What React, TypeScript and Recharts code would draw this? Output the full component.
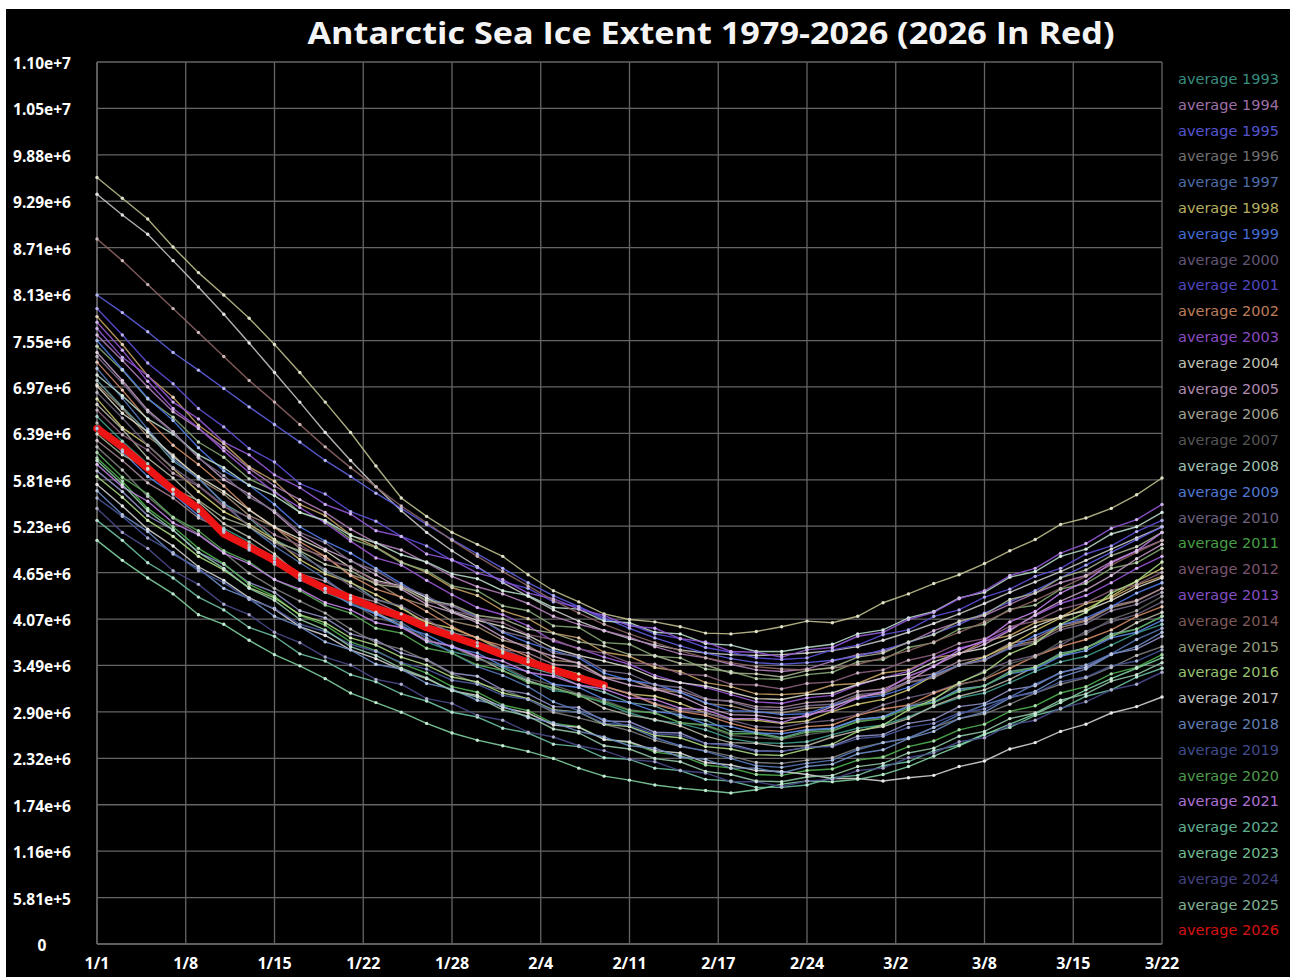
import React from 'react';
import { LineChart, Line, XAxis, YAxis, CartesianGrid } from 'recharts';

// x positions: every second day-step, 0..84 (12 ticks of 7 steps)
const dayIndex = [
  0, 2, 4, 6, 8, 10, 12, 14, 16, 18, 20, 22, 24, 26, 28, 30, 32, 34, 36, 38, 40, 42,
  44, 46, 48, 50, 52, 54, 56, 58, 60, 62, 64, 66, 68, 70, 72, 74, 76, 78, 80, 82, 84,
];
const xTicks = [0, 7, 14, 21, 28, 35, 42, 49, 56, 63, 70, 77, 84];
const xTickLabels = ['1/1', '1/8', '1/15', '1/22', '1/28', '2/4', '2/11', '2/17', '2/24', '3/2', '3/8', '3/15', '3/22'];

// millions of km²
const yTicks = [
  0, 0.5808, 1.1616, 1.7424, 2.3232, 2.904, 3.4848, 4.0656, 4.6464, 5.2272, 5.808, 6.3888, 6.9696,
  7.5504, 8.1312, 8.712, 9.2928, 9.8736, 10.4544, 11.0352,
];
const yTickLabels = [
  '0', '5.81e+5', '1.16e+6', '1.74e+6', '2.32e+6', '2.90e+6', '3.49e+6', '4.07e+6', '4.65e+6', '5.23e+6',
  '5.81e+6', '6.39e+6', '6.97e+6', '7.55e+6', '8.13e+6', '8.71e+6', '9.29e+6', '9.88e+6', '1.05e+7', '1.10e+7',
];

// earlier years (drawn, legend scrolled out of view)
const y1985 = [9.59, 9.33, 9.07, 8.72, 8.40, 8.12, 7.83, 7.50, 7.15, 6.78, 6.40, 5.98, 5.58, 5.35, 5.15, 5.00, 4.85, 4.62, 4.42, 4.28, 4.13, 4.06, 4.03, 3.97, 3.89, 3.88, 3.91, 3.97, 4.04, 4.02, 4.10, 4.27, 4.38, 4.51, 4.62, 4.76, 4.92, 5.06, 5.25, 5.33, 5.45, 5.62, 5.83];
const y1986 = [9.38, 9.12, 8.88, 8.55, 8.22, 7.88, 7.52, 7.15, 6.78, 6.40, 6.05, 5.72, 5.42, 5.15, 4.92, 4.72, 4.52, 4.35, 4.18, 4.04, 3.92, 3.82, 3.74, 3.68, 3.64, 3.62, 3.61, 3.62, 3.64, 3.67, 3.72, 3.80, 3.90, 4.01, 4.13, 4.26, 4.40, 4.53, 4.66, 4.80, 4.94, 5.08, 5.22];
const y1987 = [7.00, 6.70, 6.35, 6.12, 5.82, 5.63, 5.36, 5.22, 4.95, 4.85, 4.62, 4.52, 4.33, 4.23, 4.04, 3.97, 3.80, 3.73, 3.55, 3.52, 3.34, 3.31, 3.18, 3.15, 3.01, 2.98, 2.90, 2.89, 2.95, 2.97, 3.10, 3.13, 3.27, 3.33, 3.49, 3.55, 3.73, 3.79, 3.96, 4.04, 4.21, 4.29, 4.45];
const y1988 = [7.85, 7.50, 7.11, 6.84, 6.49, 6.26, 5.97, 5.79, 5.50, 5.36, 5.12, 4.97, 4.78, 4.65, 4.46, 4.36, 4.17, 4.07, 3.89, 3.83, 3.65, 3.60, 3.46, 3.41, 3.27, 3.22, 3.13, 3.12, 3.14, 3.24, 3.26, 3.39, 3.43, 3.58, 3.63, 3.79, 3.86, 4.02, 4.09, 4.26, 4.33, 4.49, 4.60];
const y1989 = [7.05, 6.72, 6.40, 6.04, 5.83, 5.51, 5.33, 5.06, 4.90, 4.66, 4.53, 4.31, 4.22, 3.99, 3.91, 3.73, 3.64, 3.46, 3.38, 3.24, 3.15, 3.02, 2.98, 2.84, 2.80, 2.66, 2.65, 2.58, 2.67, 2.69, 2.81, 2.84, 2.98, 3.02, 3.19, 3.23, 3.41, 3.46, 3.64, 3.70, 3.88, 3.94, 4.10];
const y1990 = [6.30, 6.05, 5.77, 5.58, 5.33, 5.18, 4.96, 4.85, 4.63, 4.54, 4.36, 4.28, 4.13, 4.04, 3.89, 3.84, 3.69, 3.64, 3.50, 3.47, 3.33, 3.31, 3.20, 3.17, 3.06, 3.04, 2.97, 2.96, 3.02, 3.04, 3.16, 3.19, 3.33, 3.38, 3.54, 3.59, 3.76, 3.82, 3.99, 4.05, 4.23, 4.30, 4.45];
const y1991 = [7.48, 7.18, 6.82, 6.59, 6.28, 6.09, 5.82, 5.67, 5.40, 5.29, 5.07, 4.96, 4.77, 4.67, 4.48, 4.42, 4.23, 4.17, 3.98, 3.96, 3.77, 3.75, 3.60, 3.58, 3.44, 3.41, 3.32, 3.31, 3.37, 3.40, 3.53, 3.56, 3.71, 3.77, 3.94, 4.00, 4.19, 4.24, 4.44, 4.51, 4.70, 4.77, 4.95];
const y1992 = [5.92, 5.66, 5.36, 5.18, 4.90, 4.75, 4.52, 4.40, 4.17, 4.08, 3.88, 3.80, 3.64, 3.56, 3.39, 3.35, 3.18, 3.13, 2.97, 2.96, 2.79, 2.78, 2.65, 2.64, 2.51, 2.50, 2.42, 2.41, 2.46, 2.48, 2.60, 2.62, 2.76, 2.81, 2.97, 3.01, 3.18, 3.23, 3.40, 3.46, 3.63, 3.69, 3.85];

const y1993 = [6.60, 6.29, 6.01, 5.68, 5.41, 5.20, 5.03, 4.82, 4.57, 4.40, 4.27, 4.13, 3.99, 3.78, 3.66, 3.58, 3.46, 3.30, 3.17, 3.13, 3.01, 2.89, 2.80, 2.76, 2.68, 2.57, 2.52, 2.51, 2.53, 2.62, 2.70, 2.74, 2.84, 2.97, 3.08, 3.14, 3.27, 3.41, 3.53, 3.60, 3.74, 3.89, 4.00];
const y1994 = [7.62, 7.30, 6.97, 6.66, 6.45, 6.21, 5.95, 5.73, 5.56, 5.40, 5.19, 5.02, 4.93, 4.77, 4.60, 4.47, 4.38, 4.26, 4.10, 4.00, 3.92, 3.84, 3.72, 3.63, 3.58, 3.50, 3.43, 3.41, 3.44, 3.54, 3.62, 3.66, 3.77, 3.92, 4.03, 4.11, 4.25, 4.39, 4.52, 4.61, 4.78, 4.92, 5.05];
const y1995 = [8.12, 7.90, 7.66, 7.40, 7.18, 6.95, 6.72, 6.50, 6.28, 6.05, 5.85, 5.64, 5.45, 5.25, 5.06, 4.88, 4.70, 4.52, 4.36, 4.22, 4.08, 3.95, 3.83, 3.73, 3.64, 3.57, 3.52, 3.50, 3.52, 3.55, 3.60, 3.68, 3.77, 3.88, 4.00, 4.14, 4.28, 4.42, 4.58, 4.74, 4.90, 5.06, 5.22];
const y1996 = [6.22, 5.93, 5.60, 5.33, 5.13, 4.90, 4.64, 4.45, 4.29, 4.14, 3.94, 3.77, 3.69, 3.55, 3.38, 3.26, 3.18, 3.06, 2.90, 2.83, 2.75, 2.67, 2.55, 2.47, 2.42, 2.35, 2.27, 2.26, 2.30, 2.33, 2.45, 2.52, 2.57, 2.71, 2.82, 2.88, 3.00, 3.14, 3.25, 3.33, 3.46, 3.61, 3.72];
const y1997 = [7.20, 6.83, 6.44, 6.07, 5.82, 5.52, 5.22, 4.98, 4.77, 4.57, 4.33, 4.12, 4.02, 3.83, 3.64, 3.47, 3.36, 3.22, 3.03, 2.92, 2.81, 2.72, 2.58, 2.48, 2.41, 2.32, 2.23, 2.21, 2.26, 2.30, 2.43, 2.52, 2.58, 2.71, 2.87, 2.99, 3.09, 3.25, 3.39, 3.49, 3.63, 3.81, 3.95];
const y1998 = [6.82, 6.46, 6.24, 5.95, 5.66, 5.41, 5.25, 5.06, 4.81, 4.63, 4.52, 4.37, 4.20, 4.02, 3.95, 3.83, 3.67, 3.53, 3.46, 3.38, 3.22, 3.13, 3.10, 3.01, 2.89, 2.81, 2.80, 2.76, 2.79, 2.91, 3.00, 3.06, 3.18, 3.36, 3.49, 3.59, 3.74, 3.92, 4.08, 4.19, 4.35, 4.54, 4.70];
const y1999 = [7.55, 7.19, 6.83, 6.55, 6.21, 5.92, 5.74, 5.50, 5.22, 5.04, 4.89, 4.70, 4.51, 4.33, 4.23, 4.09, 3.90, 3.77, 3.67, 3.58, 3.39, 3.30, 3.25, 3.15, 3.02, 2.92, 2.91, 2.87, 2.88, 2.99, 3.07, 3.11, 3.21, 3.37, 3.49, 3.56, 3.70, 3.86, 3.99, 4.08, 4.22, 4.39, 4.52];
const y2000 = [6.90, 6.58, 6.24, 5.96, 5.74, 5.49, 5.23, 5.02, 4.86, 4.69, 4.48, 4.31, 4.23, 4.06, 3.89, 3.77, 3.69, 3.56, 3.39, 3.31, 3.22, 3.14, 3.01, 2.93, 2.89, 2.80, 2.72, 2.71, 2.77, 2.80, 2.87, 2.99, 3.08, 3.15, 3.26, 3.42, 3.54, 3.61, 3.74, 3.91, 4.03, 4.12, 4.28];
const y2001 = [7.95, 7.62, 7.27, 7.01, 6.70, 6.47, 6.20, 6.03, 5.76, 5.63, 5.41, 5.29, 5.10, 4.98, 4.80, 4.71, 4.53, 4.45, 4.28, 4.22, 4.06, 4.00, 3.88, 3.82, 3.71, 3.65, 3.58, 3.56, 3.58, 3.68, 3.74, 3.87, 3.93, 4.10, 4.18, 4.34, 4.44, 4.60, 4.70, 4.88, 4.98, 5.16, 5.30];
const y2002 = [7.28, 6.93, 6.56, 6.24, 6.00, 5.73, 5.44, 5.21, 5.03, 4.85, 4.61, 4.44, 4.34, 4.16, 3.97, 3.82, 3.73, 3.60, 3.42, 3.31, 3.23, 3.13, 3.00, 2.91, 2.86, 2.76, 2.68, 2.66, 2.72, 2.74, 2.86, 2.94, 2.99, 3.14, 3.25, 3.31, 3.45, 3.60, 3.72, 3.81, 3.93, 4.10, 4.22];
const y2003 = [7.78, 7.43, 7.04, 6.70, 6.46, 6.17, 5.90, 5.65, 5.46, 5.27, 5.04, 4.83, 4.74, 4.55, 4.37, 4.21, 4.12, 3.98, 3.79, 3.70, 3.59, 3.50, 3.36, 3.27, 3.21, 3.12, 3.03, 3.01, 3.08, 3.11, 3.24, 3.33, 3.41, 3.58, 3.70, 3.78, 3.94, 4.11, 4.26, 4.36, 4.52, 4.70, 4.85];
const y2004 = [6.98, 6.64, 6.41, 6.10, 5.85, 5.66, 5.43, 5.22, 5.07, 4.92, 4.71, 4.55, 4.48, 4.33, 4.16, 4.05, 3.97, 3.86, 3.70, 3.61, 3.54, 3.46, 3.33, 3.27, 3.23, 3.15, 3.07, 3.06, 3.12, 3.14, 3.25, 3.33, 3.38, 3.53, 3.64, 3.70, 3.83, 3.97, 4.10, 4.17, 4.30, 4.46, 4.58];
const y2005 = [7.40, 7.05, 6.68, 6.41, 6.09, 5.81, 5.63, 5.40, 5.12, 4.94, 4.80, 4.62, 4.44, 4.25, 4.15, 4.02, 3.84, 3.70, 3.60, 3.51, 3.33, 3.24, 3.19, 3.10, 2.96, 2.87, 2.86, 2.82, 2.85, 2.97, 3.08, 3.15, 3.29, 3.48, 3.63, 3.75, 3.92, 4.12, 4.29, 4.43, 4.61, 4.82, 5.00];
const y2006 = [6.75, 6.44, 6.08, 5.83, 5.53, 5.26, 5.09, 4.88, 4.61, 4.45, 4.32, 4.15, 3.98, 3.80, 3.72, 3.59, 3.42, 3.29, 3.20, 3.12, 2.95, 2.86, 2.81, 2.73, 2.60, 2.52, 2.51, 2.47, 2.48, 2.59, 2.67, 2.72, 2.82, 2.98, 3.10, 3.18, 3.31, 3.47, 3.61, 3.71, 3.84, 4.02, 4.15];
const y2007 = [6.52, 6.18, 5.94, 5.63, 5.43, 5.15, 4.99, 4.75, 4.59, 4.40, 4.28, 4.08, 4.00, 3.80, 3.72, 3.56, 3.48, 3.32, 3.24, 3.13, 3.05, 2.93, 2.89, 2.77, 2.73, 2.61, 2.58, 2.56, 2.62, 2.66, 2.79, 2.84, 2.98, 3.07, 3.24, 3.32, 3.51, 3.59, 3.78, 3.88, 4.06, 4.17, 4.35];
const y2008 = [7.12, 6.86, 6.57, 6.38, 6.12, 5.96, 5.74, 5.61, 5.40, 5.30, 5.11, 5.02, 4.87, 4.78, 4.63, 4.57, 4.42, 4.36, 4.21, 4.19, 4.04, 4.02, 3.90, 3.88, 3.76, 3.74, 3.66, 3.66, 3.71, 3.75, 3.88, 3.93, 4.08, 4.16, 4.33, 4.40, 4.59, 4.66, 4.85, 4.94, 5.13, 5.22, 5.40];
const y2009 = [6.45, 6.16, 5.85, 5.63, 5.36, 5.17, 4.93, 4.78, 4.55, 4.44, 4.25, 4.13, 3.97, 3.87, 3.71, 3.64, 3.48, 3.41, 3.25, 3.21, 3.06, 3.02, 2.91, 2.87, 2.75, 2.72, 2.64, 2.63, 2.68, 2.70, 2.81, 2.84, 2.97, 3.03, 3.17, 3.23, 3.38, 3.44, 3.60, 3.67, 3.83, 3.90, 4.05];
const y2010 = [7.35, 7.02, 6.66, 6.40, 6.08, 5.86, 5.59, 5.42, 5.15, 5.02, 4.79, 4.67, 4.48, 4.36, 4.17, 4.09, 3.91, 3.83, 3.64, 3.60, 3.42, 3.38, 3.24, 3.21, 3.07, 3.03, 2.94, 2.93, 2.98, 3.00, 3.12, 3.15, 3.28, 3.34, 3.49, 3.55, 3.71, 3.77, 3.93, 4.01, 4.17, 4.25, 4.40];
const y2011 = [6.08, 5.79, 5.45, 5.22, 4.95, 4.76, 4.50, 4.35, 4.11, 3.99, 3.78, 3.67, 3.51, 3.39, 3.22, 3.15, 2.99, 2.92, 2.76, 2.72, 2.56, 2.52, 2.40, 2.36, 2.24, 2.20, 2.12, 2.11, 2.17, 2.19, 2.30, 2.34, 2.47, 2.54, 2.68, 2.75, 2.91, 2.98, 3.14, 3.22, 3.38, 3.46, 3.62];
const y2012 = [6.68, 6.37, 6.18, 5.89, 5.73, 5.47, 5.34, 5.12, 4.99, 4.81, 4.72, 4.53, 4.47, 4.28, 4.23, 4.07, 4.02, 3.87, 3.81, 3.69, 3.64, 3.52, 3.50, 3.38, 3.36, 3.25, 3.24, 3.19, 3.26, 3.28, 3.39, 3.43, 3.55, 3.62, 3.76, 3.82, 3.97, 4.04, 4.19, 4.27, 4.42, 4.50, 4.65];
const y2013 = [7.70, 7.34, 7.11, 6.78, 6.57, 6.28, 6.12, 5.87, 5.71, 5.50, 5.38, 5.17, 5.10, 4.88, 4.81, 4.64, 4.56, 4.39, 4.32, 4.19, 4.11, 3.98, 3.95, 3.82, 3.78, 3.66, 3.65, 3.59, 3.68, 3.71, 3.85, 3.90, 4.06, 4.15, 4.32, 4.42, 4.61, 4.70, 4.89, 5.01, 5.20, 5.31, 5.50];
const y2014 = [8.82, 8.55, 8.25, 7.95, 7.65, 7.35, 7.05, 6.78, 6.50, 6.22, 5.96, 5.72, 5.48, 5.27, 5.05, 4.85, 4.66, 4.48, 4.30, 4.14, 4.00, 3.88, 3.77, 3.67, 3.58, 3.52, 3.47, 3.44, 3.43, 3.45, 3.50, 3.58, 3.67, 3.78, 3.90, 4.03, 4.17, 4.30, 4.45, 4.60, 4.74, 4.90, 5.05];
const y2015 = [6.38, 6.12, 5.95, 5.69, 5.55, 5.33, 5.22, 5.03, 4.92, 4.75, 4.67, 4.50, 4.46, 4.30, 4.25, 4.11, 4.07, 3.94, 3.89, 3.78, 3.73, 3.62, 3.61, 3.51, 3.49, 3.39, 3.38, 3.34, 3.42, 3.46, 3.59, 3.64, 3.78, 3.87, 4.04, 4.12, 4.31, 4.39, 4.58, 4.68, 4.86, 4.97, 5.15];
const y2016 = [5.85, 5.59, 5.30, 5.10, 4.85, 4.68, 4.46, 4.33, 4.12, 4.02, 3.83, 3.74, 3.59, 3.49, 3.34, 3.28, 3.14, 3.07, 2.93, 2.90, 2.75, 2.72, 2.61, 2.58, 2.47, 2.44, 2.37, 2.36, 2.44, 2.50, 2.66, 2.74, 2.93, 3.06, 3.27, 3.40, 3.63, 3.76, 4.00, 4.15, 4.39, 4.54, 4.78];
const y2017 = [5.75, 5.48, 5.19, 4.98, 4.72, 4.55, 4.33, 4.19, 3.97, 3.86, 3.68, 3.57, 3.43, 3.32, 3.17, 3.11, 2.96, 2.89, 2.74, 2.71, 2.56, 2.53, 2.42, 2.39, 2.27, 2.24, 2.17, 2.16, 2.12, 2.07, 2.07, 2.04, 2.08, 2.11, 2.22, 2.29, 2.44, 2.52, 2.66, 2.75, 2.89, 2.97, 3.09];
const y2018 = [5.67, 5.37, 5.16, 4.88, 4.70, 4.45, 4.32, 4.10, 3.97, 3.78, 3.68, 3.50, 3.44, 3.26, 3.19, 3.05, 2.98, 2.83, 2.77, 2.66, 2.59, 2.48, 2.45, 2.34, 2.31, 2.20, 2.20, 2.14, 2.22, 2.25, 2.38, 2.43, 2.57, 2.66, 2.82, 2.90, 3.08, 3.16, 3.34, 3.44, 3.62, 3.72, 3.90];
const y2019 = [5.58, 5.35, 5.08, 4.90, 4.67, 4.52, 4.31, 4.20, 4.00, 3.91, 3.75, 3.66, 3.52, 3.44, 3.30, 3.25, 3.11, 3.06, 2.92, 2.90, 2.76, 2.74, 2.63, 2.61, 2.51, 2.48, 2.41, 2.41, 2.46, 2.47, 2.57, 2.60, 2.71, 2.76, 2.89, 2.94, 3.09, 3.14, 3.28, 3.34, 3.48, 3.54, 3.68];
const y2020 = [6.15, 5.84, 5.63, 5.34, 5.17, 4.92, 4.78, 4.56, 4.42, 4.24, 4.14, 3.95, 3.89, 3.70, 3.64, 3.49, 3.42, 3.27, 3.21, 3.10, 3.03, 2.92, 2.89, 2.77, 2.74, 2.63, 2.63, 2.57, 2.65, 2.67, 2.78, 2.82, 2.95, 3.02, 3.16, 3.23, 3.39, 3.46, 3.62, 3.70, 3.86, 3.94, 4.10];
const y2021 = [6.00, 5.72, 5.54, 5.27, 5.12, 4.89, 4.76, 4.56, 4.44, 4.27, 4.18, 4.02, 3.96, 3.79, 3.73, 3.60, 3.54, 3.40, 3.35, 3.24, 3.19, 3.08, 3.06, 2.95, 2.93, 2.82, 2.82, 2.77, 2.87, 2.93, 3.08, 3.16, 3.35, 3.47, 3.68, 3.80, 4.03, 4.16, 4.39, 4.54, 4.77, 4.92, 5.15];
const y2022 = [5.30, 5.05, 4.77, 4.58, 4.34, 4.18, 3.96, 3.85, 3.63, 3.54, 3.37, 3.28, 3.13, 3.04, 2.90, 2.84, 2.70, 2.64, 2.50, 2.47, 2.33, 2.31, 2.20, 2.17, 2.06, 2.04, 1.96, 1.96, 1.99, 2.08, 2.11, 2.23, 2.28, 2.42, 2.49, 2.63, 2.71, 2.86, 2.94, 3.10, 3.18, 3.34, 3.45];
const y2023 = [5.05, 4.80, 4.58, 4.38, 4.12, 4.00, 3.80, 3.62, 3.48, 3.32, 3.14, 3.02, 2.90, 2.76, 2.64, 2.55, 2.48, 2.41, 2.32, 2.20, 2.10, 2.05, 1.99, 1.95, 1.92, 1.89, 1.93, 2.00, 2.04, 2.03, 2.06, 2.12, 2.22, 2.35, 2.48, 2.62, 2.75, 2.88, 3.02, 3.18, 3.32, 3.45, 3.58];
const y2024 = [5.45, 5.15, 4.95, 4.67, 4.50, 4.25, 4.12, 3.90, 3.77, 3.59, 3.49, 3.31, 3.25, 3.07, 3.01, 2.86, 2.80, 2.65, 2.59, 2.48, 2.42, 2.31, 2.28, 2.17, 2.14, 2.03, 2.03, 1.97, 2.04, 2.06, 2.17, 2.20, 2.33, 2.39, 2.53, 2.58, 2.74, 2.80, 2.95, 3.03, 3.18, 3.25, 3.40];
const y2025 = [6.05, 5.75, 5.42, 5.18, 4.90, 4.70, 4.45, 4.30, 4.06, 3.93, 3.72, 3.61, 3.45, 3.33, 3.17, 3.09, 2.93, 2.85, 2.69, 2.64, 2.48, 2.44, 2.32, 2.28, 2.16, 2.12, 2.04, 2.03, 2.09, 2.11, 2.22, 2.26, 2.39, 2.45, 2.60, 2.66, 2.82, 2.89, 3.05, 3.13, 3.29, 3.37, 3.52];
const y2026 = [6.45, 6.22, 5.95, 5.68, 5.45, 5.13, 4.97, 4.80, 4.60, 4.45, 4.33, 4.20, 4.10, 3.96, 3.85, 3.74, 3.62, 3.53, 3.43, 3.33, 3.24];

type Series = { year: number; values: number[]; color: string; inLegend: boolean };

const series: Series[] = [
  { year: 1985, values: y1985, color: '#bdbd8c', inLegend: false },
  { year: 1986, values: y1986, color: '#c4c4c4', inLegend: false },
  { year: 1987, values: y1987, color: '#a58c72', inLegend: false },
  { year: 1988, values: y1988, color: '#c29c62', inLegend: false },
  { year: 1989, values: y1989, color: '#6ea2a2', inLegend: false },
  { year: 1990, values: y1990, color: '#a48294', inLegend: false },
  { year: 1991, values: y1991, color: '#84a672', inLegend: false },
  { year: 1992, values: y1992, color: '#8f8fc6', inLegend: false },
  { year: 1993, values: y1993, color: '#3f9c8c', inLegend: true },
  { year: 1994, values: y1994, color: '#b07cb8', inLegend: true },
  { year: 1995, values: y1995, color: '#5f5fe0', inLegend: true },
  { year: 1996, values: y1996, color: '#7c7c7c', inLegend: true },
  { year: 1997, values: y1997, color: '#5778b8', inLegend: true },
  { year: 1998, values: y1998, color: '#c9c06a', inLegend: true },
  { year: 1999, values: y1999, color: '#4d79e6', inLegend: true },
  { year: 2000, values: y2000, color: '#6e5f80', inLegend: true },
  { year: 2001, values: y2001, color: '#5c4fd6', inLegend: true },
  { year: 2002, values: y2002, color: '#d08a66', inLegend: true },
  { year: 2003, values: y2003, color: '#9b55d6', inLegend: true },
  { year: 2004, values: y2004, color: '#d6d6c8', inLegend: true },
  { year: 2005, values: y2005, color: '#c29ac2', inLegend: true },
  { year: 2006, values: y2006, color: '#b4b4a4', inLegend: true },
  { year: 2007, values: y2007, color: '#5f5f5f', inLegend: true },
  { year: 2008, values: y2008, color: '#b2d6c4', inLegend: true },
  { year: 2009, values: y2009, color: '#5a86e6', inLegend: true },
  { year: 2010, values: y2010, color: '#7a6c8c', inLegend: true },
  { year: 2011, values: y2011, color: '#4fb04f', inLegend: true },
  { year: 2012, values: y2012, color: '#8a5f7c', inLegend: true },
  { year: 2013, values: y2013, color: '#9257d6', inLegend: true },
  { year: 2014, values: y2014, color: '#8c6464', inLegend: true },
  { year: 2015, values: y2015, color: '#a3ae8c', inLegend: true },
  { year: 2016, values: y2016, color: '#a6d67e', inLegend: true },
  { year: 2017, values: y2017, color: '#d2d2d2', inLegend: true },
  { year: 2018, values: y2018, color: '#6d8cc4', inLegend: true },
  { year: 2019, values: y2019, color: '#48569a', inLegend: true },
  { year: 2020, values: y2020, color: '#57aa57', inLegend: true },
  { year: 2021, values: y2021, color: '#c07ee6', inLegend: true },
  { year: 2022, values: y2022, color: '#6cc0a0', inLegend: true },
  { year: 2023, values: y2023, color: '#7fd0a0', inLegend: true },
  { year: 2024, values: y2024, color: '#4a4a8c', inLegend: true },
  { year: 2025, values: y2025, color: '#8fc4a4', inLegend: true },
];
const current = { year: 2026, values: y2026, color: '#ec1414' };

const rows = dayIndex.map((d, k) => {
  const row: Record<string, number | null> = { d };
  [...series, current].forEach((s) => {
    const v = s.values[k];
    row['y' + s.year] = v == null ? null : v * 1e6;
  });
  return row;
});

// lighter tint for the point markers
function tint(hex: string, t: number) {
  const n = parseInt(hex.slice(1), 16);
  const ch = [(n >> 16) & 255, (n >> 8) & 255, n & 255].map((c) => Math.round(c + (255 - c) * t));
  return `rgb(${ch[0]},${ch[1]},${ch[2]})`;
}

const GRID = '#656565';
const W = 1284;
const H = 968;

function YTick(props: any) {
  const idx = yTicks.findIndex((t) => Math.abs(t * 1e6 - props.payload.value) < 1);
  return (
    <text x={36} y={props.y + 1} textAnchor="middle" dominantBaseline="central" fill="#fff"
      fontFamily="'Open Sans', sans-serif" fontWeight={700} fontSize={15.5}>
      {yTickLabels[idx]}
    </text>
  );
}

function XTick(props: any) {
  const idx = xTicks.indexOf(props.payload.value);
  return (
    <text x={props.x} y={954} textAnchor="middle" dominantBaseline="central" fill="#fff"
      fontFamily="'Open Sans', sans-serif" fontWeight={700} fontSize={16}>
      {xTickLabels[idx]}
    </text>
  );
}

export default function App() {
  const legendItems = [...series.filter((s) => s.inLegend), current];
  return (
    <div style={{ position: 'fixed', left: 6, top: 9, width: W, height: H, background: '#000', overflow: 'hidden' }}>
      <svg width={W} height={60} style={{ position: 'absolute', left: 0, top: 0 }}>
        <text x={705} y={35} textAnchor="middle" fill="#f4f4f4" fontFamily="'Open Sans', sans-serif"
          fontWeight={700} fontSize={31} textLength={807} lengthAdjust="spacingAndGlyphs">
          Antarctic Sea Ice Extent 1979-2026 (2026 In Red)
        </text>
      </svg>

      <LineChart width={W} height={H} data={rows} margin={{ top: 53, right: 128, bottom: 0, left: 0 }}>
        <CartesianGrid stroke={GRID} strokeWidth={1.3} />
        <XAxis dataKey="d" type="number" domain={[0, 84]} ticks={xTicks} interval={0} height={33}
          axisLine={{ stroke: GRID, strokeWidth: 1.5 }} tickLine={false} tick={<XTick />} />
        <YAxis type="number" domain={[0, 11.0352e6]} ticks={yTicks.map((t) => t * 1e6)} interval={0} width={91}
          axisLine={{ stroke: GRID, strokeWidth: 1.5 }} tickLine={false} tick={<YTick />} />
        {series.map((s) => (
          <Line key={s.year} type="linear" dataKey={'y' + s.year} stroke={s.color} strokeWidth={1.4}
            strokeOpacity={0.9} dot={{ r: 1.7, fill: tint(s.color, 0.55), stroke: 'none' }}
            activeDot={false} isAnimationActive={false} />
        ))}
        <Line type="linear" dataKey={'y' + current.year} stroke={current.color} strokeWidth={7.5}
          strokeLinejoin="round" strokeLinecap="round" dot={false} activeDot={false} isAnimationActive={false} />
      </LineChart>

      <div style={{ position: 'absolute', left: 1172, top: 58, fontFamily: "'DejaVu Sans', sans-serif", fontSize: 14.5, opacity: 0.9 }}>
        {legendItems.map((s) => (
          <div key={s.year} style={{ height: 25.8, lineHeight: '25.8px', color: s.color, whiteSpace: 'nowrap' }}>
            average {s.year}
          </div>
        ))}
      </div>
    </div>
  );
}
